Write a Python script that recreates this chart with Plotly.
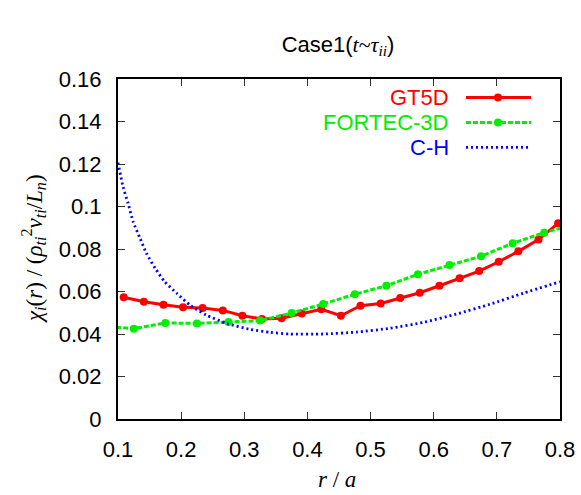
import plotly.graph_objects as go

# GT5D radial profile of ion heat diffusivity
r_gt5d = [0.109, 0.141, 0.172, 0.203, 0.234, 0.266, 0.297, 0.328, 0.359, 0.391,
          0.422, 0.453, 0.484, 0.516, 0.547, 0.578, 0.609, 0.641, 0.672, 0.703,
          0.734, 0.766, 0.797]
chi_gt5d = [0.0573, 0.0552, 0.0538, 0.0526, 0.0522, 0.0511, 0.0486, 0.0471, 0.0474, 0.0497,
            0.0516, 0.0486, 0.0533, 0.0544, 0.0569, 0.0594, 0.0627, 0.0662, 0.0696, 0.0740,
            0.0789, 0.0845, 0.0921]

# FORTEC-3D profile (end points lie just outside the plotted range)
r_fortec = [0.075, 0.125, 0.175, 0.225, 0.275, 0.325, 0.375, 0.425, 0.475, 0.525,
            0.575, 0.625, 0.675, 0.725, 0.775, 0.825]
chi_fortec = [0.0437, 0.0425, 0.0452, 0.0450, 0.0456, 0.0463, 0.0499, 0.0541, 0.0587, 0.0627,
              0.0681, 0.0725, 0.0766, 0.0827, 0.0877, 0.0917]

# Chang-Hinton neoclassical estimate
r_ch = [0.100, 0.108, 0.116, 0.124, 0.135, 0.145, 0.159, 0.174, 0.193, 0.214,
        0.240, 0.272, 0.309, 0.341, 0.372, 0.425, 0.478, 0.531, 0.584, 0.636,
        0.689, 0.742, 0.800]
chi_ch = [0.1206, 0.1093, 0.1015, 0.0928, 0.0850, 0.0780, 0.0709, 0.0646, 0.0592, 0.0536,
          0.0489, 0.0450, 0.0422, 0.0408, 0.0400, 0.0400, 0.0409, 0.0427, 0.0455, 0.0494,
          0.0540, 0.0592, 0.0646]

series_names = ["GT5D", "FORTEC-3D", "C-H"]
series_colors = ["#ff0000", "#00ee00", "#0000ff"]

x_ticks = [0.1, 0.2, 0.3, 0.4, 0.5, 0.6, 0.7, 0.8]
y_ticks = [0, 0.02, 0.04, 0.06, 0.08, 0.1, 0.12, 0.14, 0.16]

SANS = "Liberation Sans, Arial, sans-serif"
SERIF = "Liberation Serif, Times New Roman, serif"

fig = go.Figure()
fig.add_trace(go.Scatter(
    x=r_gt5d, y=chi_gt5d, mode="lines+markers", name=series_names[0],
    line=dict(color=series_colors[0], width=3),
    marker=dict(color=series_colors[0], size=8),
))
fig.add_trace(go.Scatter(
    x=r_fortec, y=chi_fortec, mode="lines+markers", name=series_names[1],
    line=dict(color=series_colors[1], width=3, dash="5px,2px"),
    marker=dict(color=series_colors[1], size=8),
))
fig.add_trace(go.Scatter(
    x=r_ch, y=chi_ch, mode="lines", name=series_names[2],
    line=dict(color=series_colors[2], width=2.8, dash="2px,3px", shape="spline", smoothing=0.6),
))

axis_common = dict(
    showgrid=False, zeroline=False, automargin=False,
    showline=True, linecolor="black", linewidth=2, mirror="ticks",
    ticks="inside", ticklen=7, tickwidth=1, tickcolor="#333333",
    tickfont=dict(family=SANS, size=22, color="black"),
    ticklabelstandoff=10,
)
fig.update_xaxes(range=[0.1, 0.8], tickvals=x_ticks, **axis_common)
fig.update_yaxes(range=[0, 0.16], tickvals=y_ticks, **axis_common)

# Legend drawn gnuplot-style: right-aligned labels with line samples to their right
x_txt = 0.7534
x0_s, x1_s, xm_s = 0.7873, 0.9344, 0.8597
rows_y = [0.9456, 0.8721, 0.7990]
dashes = ["solid", "5px,2px", "2px,3px"]
widths = [3, 3, 2.8]
annotations = []
shapes = []
for i in range(3):
    annotations.append(dict(
        x=x_txt, y=rows_y[i], xref="paper", yref="paper", xanchor="right", yanchor="middle",
        text=series_names[i], showarrow=False,
        font=dict(family=SANS, size=22, color=series_colors[i]),
    ))
    shapes.append(dict(
        type="line", xref="paper", yref="paper", x0=x0_s, x1=x1_s, y0=rows_y[i], y1=rows_y[i],
        line=dict(color=series_colors[i], width=widths[i], dash=dashes[i]),
    ))
    if i < 2:
        shapes.append(dict(
            type="circle", xref="paper", yref="paper",
            xsizemode="pixel", ysizemode="pixel",
            xanchor=xm_s, yanchor=rows_y[i], x0=-4, x1=4, y0=-4, y1=4,
            fillcolor=series_colors[i], line=dict(color=series_colors[i], width=0),
        ))

# Axis titles
annotations.append(dict(
    x=0.495, y=-0.1765, xref="paper", yref="paper", xanchor="center", yanchor="middle",
    text="<i>r</i> / <i>a</i>", showarrow=False,
    font=dict(family=SERIF, size=23, color="black"),
))
annotations.append(dict(
    x=-0.1923, y=0.5, xref="paper", yref="paper", xanchor="center", yanchor="middle",
    textangle=-90,
    text="<i>χ<sub>i</sub></i>(<i>r</i>) / (<i>ρ<sub>ti</sub></i><sup>2</sup><i>v<sub>ti</sub></i>/<i>L<sub>n</sub></i>)",
    showarrow=False,
    font=dict(family=SERIF, size=23, color="black"),
))

fig.update_layout(
    width=581, height=495,
    margin=dict(l=118, r=21, t=79, b=76),
    paper_bgcolor="white", plot_bgcolor="white",
    showlegend=False,
    title=dict(
        text="Case1(<span style='font-family:Liberation Serif'><i>t</i>~<i>τ<sub>ii</sub></i></span>)",
        x=338 / 581, xanchor="center", y=1 - 44 / 495, yanchor="middle",
        font=dict(family=SANS, size=22, color="black"),
    ),
    annotations=annotations,
    shapes=shapes,
)

fig.write_html("out.html")
